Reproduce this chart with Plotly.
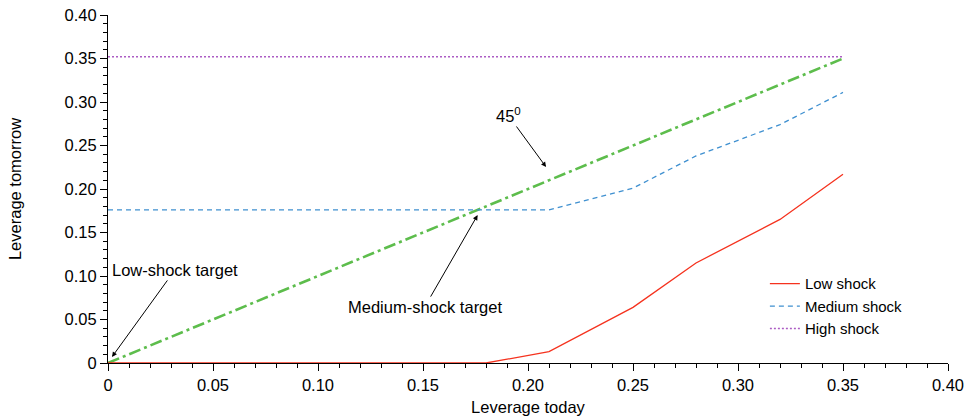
import plotly.graph_objects as go

# Data
low_x = [0, 0.18, 0.21, 0.25, 0.28, 0.32, 0.35]
low_y = [0, 0, 0.013, 0.064, 0.115, 0.165, 0.217]
med_x = [0, 0.21, 0.25, 0.28, 0.32, 0.35]
med_y = [0.176, 0.176, 0.201, 0.238, 0.274, 0.311]
high_x = [0, 0.35]
high_y = [0.352, 0.352]
diag_x = [0, 0.35]
diag_y = [0, 0.35]
tick_vals = [0, 0.05, 0.10, 0.15, 0.20, 0.25, 0.30, 0.35, 0.40]
tick_text = ["0", "0.05", "0.10", "0.15", "0.20", "0.25", "0.30", "0.35", "0.40"]

FONT = "Liberation Sans, Arial, sans-serif"
FS = 16.5

fig = go.Figure()
fig.add_trace(go.Scatter(x=diag_x, y=diag_y, mode="lines", showlegend=False,
                         line=dict(color="#5dbd4c", width=2.6, dash="12px,4px,3px,4px")))
fig.add_trace(go.Scatter(x=low_x, y=low_y, mode="lines", name="Low shock",
                         line=dict(color="#f5321e", width=1.3)))
fig.add_trace(go.Scatter(x=med_x, y=med_y, mode="lines", name="Medium shock",
                         line=dict(color="#3f90d0", width=1.3, dash="5px,4px")))
fig.add_trace(go.Scatter(x=high_x, y=high_y, mode="lines", name="High shock",
                         line=dict(color="#ac5cc4", width=1.6, dash="2px,2px")))

axis_common = dict(
    range=[0, 0.40], tickvals=tick_vals, ticktext=tick_text, automargin=False,
    showgrid=False, zeroline=False, showline=True, linecolor="black", linewidth=1,
    ticks="outside", ticklen=7, tickcolor="black", tickwidth=1,
    minor=dict(dtick=0.01, ticks="outside", ticklen=4, tickcolor="black", showgrid=False),
    tickfont=dict(family=FONT, size=FS, color="black"),
)
fig.update_xaxes(**axis_common, title=dict(text="Leverage today", standoff=8,
                 font=dict(family=FONT, size=FS, color="black")))
fig.update_yaxes(**axis_common, title=dict(text="Leverage tomorrow", standoff=38,
                 font=dict(family=FONT, size=FS, color="black")))

ann_font = dict(family=FONT, size=FS, color="black")
fig.add_annotation(x=0.2086, y=0.2253, xref="x", yref="y", text="45<sup>0</sup>",
                   ax=-38, ay=-52, showarrow=True, arrowhead=2, arrowsize=1,
                   arrowwidth=1, arrowcolor="black", font=ann_font, standoff=0)
fig.add_annotation(x=0.176, y=0.170, xref="x", yref="y", text="Medium-shock target",
                   ax=-53, ay=92, showarrow=True, arrowhead=2, arrowsize=1,
                   arrowwidth=1, arrowcolor="black", font=ann_font)
fig.add_annotation(x=0.0019, y=0.007, xref="x", yref="y", text="Low-shock target",
                   ax=63, ay=-87, showarrow=True, arrowhead=2, arrowsize=1,
                   arrowwidth=1, arrowcolor="black", font=ann_font)

fig.update_layout(
    width=966, height=416,
    margin=dict(l=108, r=18, t=15, b=53),
    paper_bgcolor="white", plot_bgcolor="white",
    font=dict(family=FONT, size=FS, color="black"),
    legend=dict(x=0.782, y=0.275, xanchor="left", yanchor="top",
                bgcolor="rgba(0,0,0,0)", font=dict(family=FONT, size=15, color="black"),
                tracegroupgap=0, itemwidth=30),
    hovermode=False,
)

fig.write_html("out.html")
